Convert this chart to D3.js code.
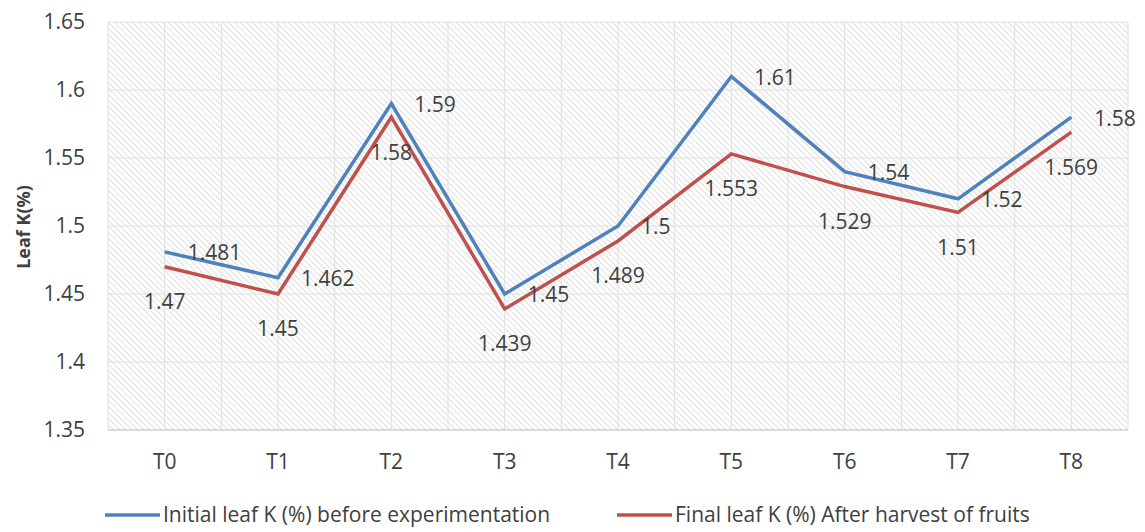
<!DOCTYPE html>
<html>
<head>
<meta charset="utf-8">
<script src="https://cdn.jsdelivr.net/npm/d3@7"></script>
<style>
  body { margin: 0; background: #fff; }
  text { font-family: "Open Sans", sans-serif; fill: #404040; }
</style>
</head>
<body>
<div id="chart"></div>
<script>
var categories = ["T0", "T1", "T2", "T3", "T4", "T5", "T6", "T7", "T8"];
var initialK = [1.481, 1.462, 1.59, 1.45, 1.5, 1.61, 1.54, 1.52, 1.58];
var finalK = [1.47, 1.45, 1.58, 1.439, 1.489, 1.553, 1.529, 1.51, 1.569];
var yTicks = [1.35, 1.4, 1.45, 1.5, 1.55, 1.6, 1.65];
var seriesNames = ["Initial leaf K (%) before experimentation", "Final leaf K (%) After harvest of fruits"];

var width = 1145, height = 532;
var margin = {top: 22, right: 17, bottom: 102, left: 108};
var innerW = width - margin.left - margin.right;
var innerH = height - margin.top - margin.bottom;
var fs = "21px";

var svg = d3.select("#chart").append("svg")
    .attr("width", width)
    .attr("height", height);

// hatch pattern like excel's downward diagonal fill
var defs = svg.append("defs");
var pat = defs.append("pattern")
    .attr("id", "hatch")
    .attr("patternUnits", "userSpaceOnUse")
    .attr("width", 6)
    .attr("height", 6);
pat.append("rect").attr("width", 6).attr("height", 6).attr("fill", "#fff");
pat.append("path")
    .attr("d", "M0,0 L6,6 M-1,5 L1,7 M5,-1 L7,1")
    .attr("stroke", "#e2e2e2")
    .attr("stroke-width", 1.1);

var g = svg.append("g")
    .attr("transform", "translate(" + margin.left + "," + margin.top + ")");

var x = d3.scalePoint()
    .domain(categories)
    .range([0, innerW])
    .padding(0.5);

var y = d3.scaleLinear()
    .domain([1.35, 1.65])
    .range([innerH, 0]);

g.append("rect")
    .attr("width", innerW)
    .attr("height", innerH)
    .attr("fill", "url(#hatch)");

// vertical grid: category centers and boundaries
var vlines = [];
categories.forEach(function(c, i) {
    vlines.push(x(c) - x.step() / 2);
    vlines.push(x(c));
});
vlines.push(innerW);

g.selectAll(".vgrid")
    .data(vlines)
    .enter().append("line")
    .attr("x1", function(d) { return d; })
    .attr("x2", function(d) { return d; })
    .attr("y1", 0)
    .attr("y2", innerH)
    .attr("stroke", "#e0e0e0")
    .attr("stroke-width", 1);

g.selectAll(".hgrid")
    .data(yTicks)
    .enter().append("line")
    .attr("x1", 0)
    .attr("x2", innerW)
    .attr("y1", function(d) { return y(d); })
    .attr("y2", function(d) { return y(d); })
    .attr("stroke", function(d) { return d == 1.35 ? "#d0d0d0" : "#e0e0e0"; })
    .attr("stroke-width", function(d) { return d == 1.35 ? 1.5 : 1; });

// y tick labels
g.selectAll(".ytick")
    .data(yTicks)
    .enter().append("text")
    .attr("x", -23)
    .attr("y", function(d) { return y(d); })
    .attr("dy", "0.35em")
    .attr("text-anchor", "end")
    .style("font-size", fs)
    .text(function(d) { return d; });

// x tick labels
g.selectAll(".xtick")
    .data(categories)
    .enter().append("text")
    .attr("x", function(d) { return x(d); })
    .attr("y", innerH + 32)
    .attr("dy", "0.35em")
    .attr("text-anchor", "middle")
    .style("font-size", fs)
    .text(function(d) { return d; });

// y axis title
svg.append("text")
    .attr("transform", "translate(24,227) rotate(-90)")
    .attr("text-anchor", "middle")
    .attr("dy", "0.35em")
    .style("font-size", "18px")
    .style("font-weight", "bold")
    .text("Leaf K(%)");

var line = d3.line()
    .x(function(d, i) { return x(categories[i]); })
    .y(function(d) { return y(d); });

var colors = ["#4f81bd", "#c0504d"];
var series = [initialK, finalK];

series.forEach(function(vals, s) {
    g.append("path")
        .datum(vals)
        .attr("d", line)
        .attr("fill", "none")
        .attr("stroke", colors[s])
        .attr("stroke-width", 3.5)
        .attr("stroke-linejoin", "miter");
});

// data labels: blue to the right, red below
g.selectAll(".lblA")
    .data(initialK)
    .enter().append("text")
    .attr("x", function(d, i) { return x(categories[i]) + 23; })
    .attr("y", function(d) { return y(d) + 1; })
    .attr("dy", "0.35em")
    .style("font-size", fs)
    .text(function(d) { return d; });

g.selectAll(".lblB")
    .data(finalK)
    .enter().append("text")
    .attr("x", function(d, i) { return x(categories[i]); })
    .attr("y", function(d) { return y(d) + 35; })
    .attr("dy", "0.35em")
    .attr("text-anchor", "middle")
    .style("font-size", fs)
    .text(function(d) { return d; });

// legend
var legendX = [105, 617];
seriesNames.forEach(function(name, s) {
    var lg = svg.append("g").attr("transform", "translate(" + legendX[s] + ",515)");
    lg.append("line")
        .attr("x1", 0).attr("x2", 55)
        .attr("y1", 0).attr("y2", 0)
        .attr("stroke", colors[s])
        .attr("stroke-width", 3.5);
    lg.append("text")
        .attr("x", 58)
        .attr("dy", "0.35em")
        .style("font-size", fs)
        .text(name);
});
</script>
</body>
</html>
